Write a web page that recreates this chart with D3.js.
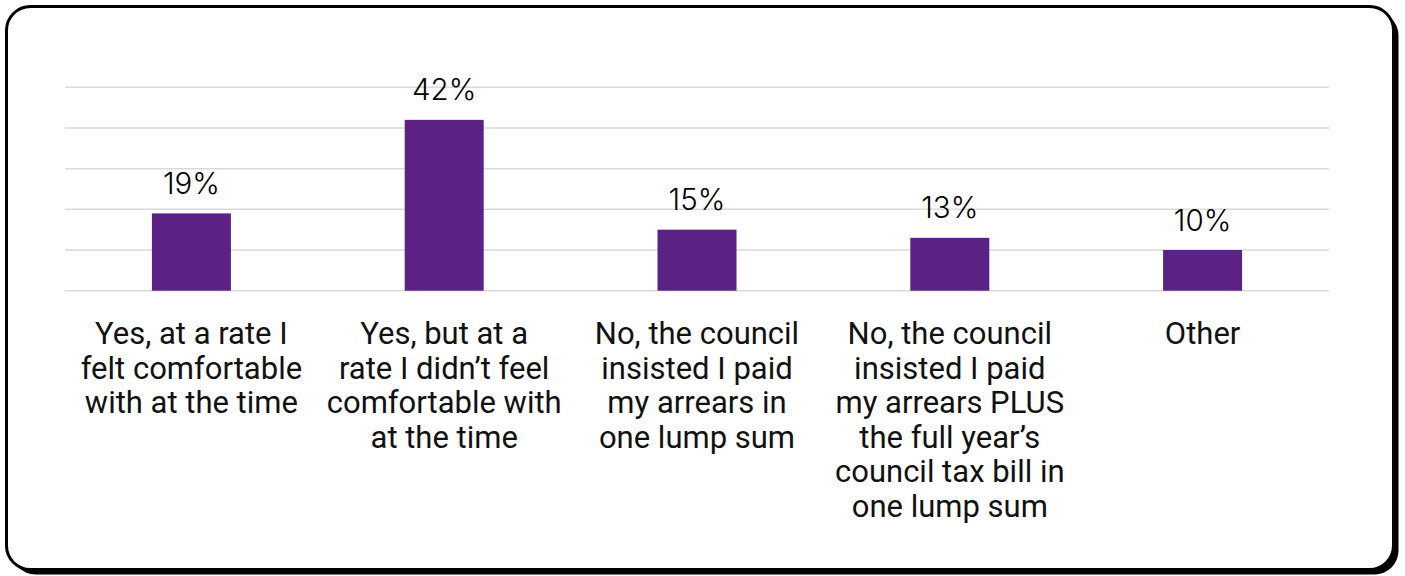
<!DOCTYPE html>
<html>
<head>
<meta charset="utf-8">
<script src="https://cdn.jsdelivr.net/npm/d3@7"></script>
<style>
  html, body { margin: 0; padding: 0; background: #ffffff; }
  svg { display: block; }
</style>
</head>
<body>
<svg id="chart" width="1405" height="576"></svg>
<script>
// Survey answers and share of respondents (%)
const categories = [
  "Yes, at a rate I\nfelt comfortable\nwith at the time",
  "Yes, but at a\nrate I didn’t feel\ncomfortable with\nat the time",
  "No, the council\ninsisted I paid\nmy arrears in\none lump sum",
  "No, the council\ninsisted I paid\nmy arrears PLUS\nthe full year’s\ncouncil tax bill in\none lump sum",
  "Other"
];
const values = [19, 42, 15, 13, 10];
const gridTicks = [0, 10, 20, 30, 40, 50];

const svg = d3.select("#chart");

// Card frame with an offset hard shadow
const frame = { x: 6.5, y: 6.5, w: 1387, h: 563, r: 24 };
svg.append("rect")
  .attr("x", frame.x + 5).attr("y", frame.y + 5)
  .attr("width", frame.w).attr("height", frame.h)
  .attr("rx", frame.r).attr("ry", frame.r)
  .attr("fill", "#000");
svg.append("rect")
  .attr("x", frame.x).attr("y", frame.y)
  .attr("width", frame.w).attr("height", frame.h)
  .attr("rx", frame.r).attr("ry", frame.r)
  .attr("fill", "#fff").attr("stroke", "#000").attr("stroke-width", 3);

const plot = { left: 65, right: 1329, top: 87.3, bottom: 290.7 };

const x = d3.scaleBand()
  .domain(categories)
  .range([plot.left, plot.right])
  .paddingInner(0.6875)
  .paddingOuter(0.34375);

const y = d3.scaleLinear()
  .domain([0, 50])
  .range([plot.bottom, plot.top]);

// Horizontal gridlines
svg.append("g")
  .selectAll("line")
  .data(gridTicks)
  .join("line")
  .attr("x1", plot.left).attr("x2", plot.right)
  .attr("y1", d => y(d)).attr("y2", d => y(d))
  .attr("stroke", "#d9d9d9").attr("stroke-width", 1.5);

// Bars
svg.append("g")
  .selectAll("rect")
  .data(values)
  .join("rect")
  .attr("x", (d, i) => x(categories[i]))
  .attr("width", x.bandwidth())
  .attr("y", d => y(d))
  .attr("height", d => y(0) - y(d))
  .attr("fill", "#5b2185");

// Value labels
svg.append("g")
  .selectAll("text")
  .data(values)
  .join("text")
  .attr("x", (d, i) => x(categories[i]) + x.bandwidth() / 2)
  .attr("y", d => y(d) - 19.5)
  .attr("text-anchor", "middle")
  .attr("font-family", "Inter, sans-serif")
  .attr("font-size", 29.5)
  .attr("font-weight", 300)
  .attr("fill", "#000")
  .text(d => d + "%");

// Category labels, wrapped onto several lines
const labels = svg.append("g")
  .selectAll("text")
  .data(categories)
  .join("text")
  .attr("x", d => x(d) + x.bandwidth() / 2)
  .attr("y", 344)
  .attr("text-anchor", "middle")
  .attr("font-family", "Roboto, sans-serif")
  .attr("font-size", 31)
  .attr("fill", "#111");

labels.each(function(d) {
  const t = d3.select(this);
  d.split("\n").forEach((line, k) => {
    t.append("tspan")
      .attr("x", x(d) + x.bandwidth() / 2)
      .attr("dy", k === 0 ? 0 : 34.5)
      .text(line);
  });
});
</script>
</body>
</html>
